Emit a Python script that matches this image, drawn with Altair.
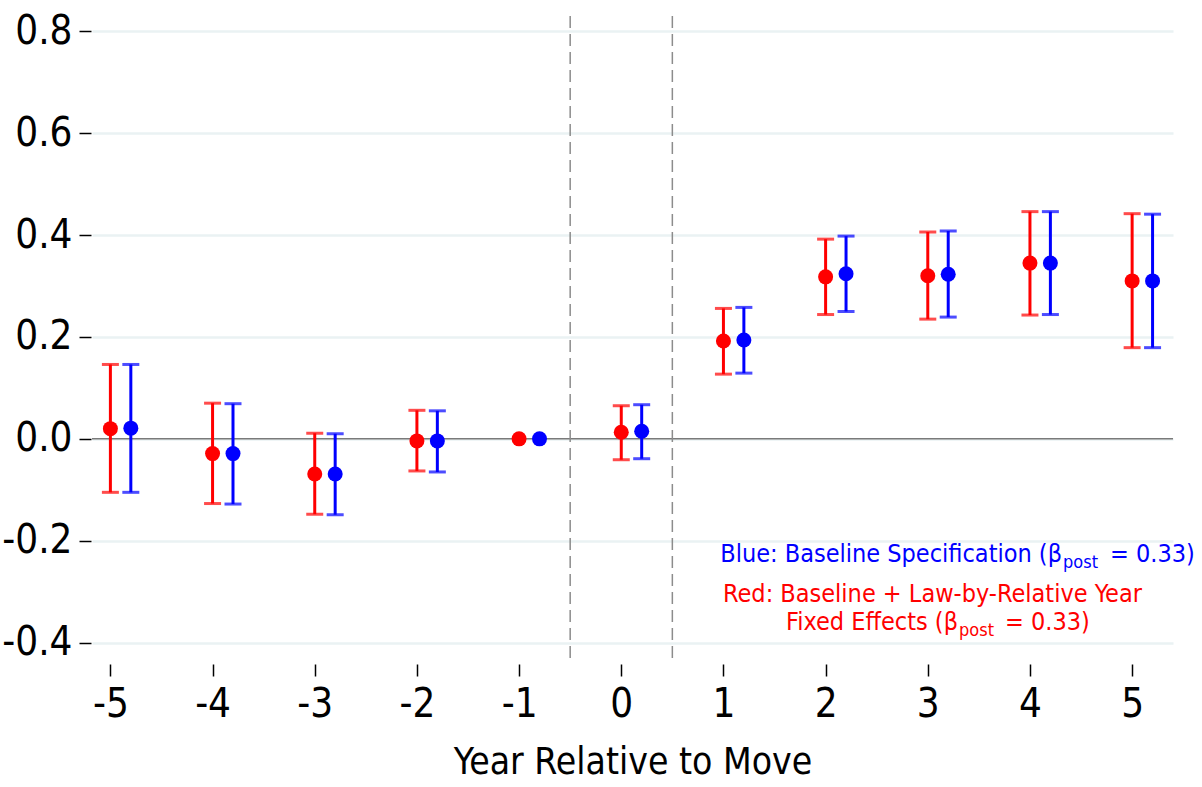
import altair as alt
import pandas as pd

years = [-5, -4, -3, -2, -1, 0, 1, 2, 3, 4, 5]
red_est = [0.020, -0.029, -0.069, -0.004, 0.0, 0.013, 0.192, 0.318, 0.320, 0.345, 0.310]
red_lo = [-0.105, -0.127, -0.148, -0.063, None, -0.041, 0.127, 0.244, 0.235, 0.243, 0.179]
red_hi = [0.146, 0.070, 0.011, 0.056, None, 0.065, 0.256, 0.392, 0.406, 0.446, 0.442]
blue_est = [0.021, -0.029, -0.069, -0.004, 0.0, 0.015, 0.194, 0.324, 0.323, 0.345, 0.310]
blue_lo = [-0.105, -0.128, -0.149, -0.065, None, -0.039, 0.129, 0.250, 0.239, 0.244, 0.179]
blue_hi = [0.146, 0.069, 0.010, 0.055, None, 0.067, 0.258, 0.398, 0.408, 0.446, 0.441]
y_ticks = [-0.4, -0.2, 0.0, 0.2, 0.4, 0.6, 0.8]
x_ticks = years
x_title = "Year Relative to Move"

rows = []
for i, yr in enumerate(years):
    rows.append({"spec": "Red", "year": yr, "est": red_est[i], "lo": red_lo[i], "hi": red_hi[i]})
for i, yr in enumerate(years):
    rows.append({"spec": "Blue", "year": yr, "est": blue_est[i], "lo": blue_lo[i], "hi": blue_hi[i]})
df = pd.DataFrame(rows)

FONT = "Liberation Sans Narrow, Arial Narrow, DejaVu Sans Condensed, sans-serif"
RED = "#FF0000"
BLUE = "#0000FF"

xscale = alt.Scale(domain=[-5.18, 5.4], nice=False, zero=False)
yscale = alt.Scale(domain=[-0.44, 0.83], nice=False, zero=False)
color = alt.Color("spec:N", scale=alt.Scale(domain=["Red", "Blue"], range=[RED, BLUE]), legend=None)

base = alt.Chart(df).transform_calculate(
    xpos="datum.year + (datum.spec == 'Blue' ? 0.2 : 0)"
)

xax = alt.Axis(values=x_ticks, grid=False, domain=False, tickSize=12, tickWidth=1.5,
               tickColor="black", labelFontSize=40, labelFont=FONT, labelPadding=8,
               labelExpr="replace(format(datum.value, 'd'), '\u2212', '-')",
               title=x_title, titleFont=FONT, titleFontSize=37, titleFontWeight="normal",
               titlePadding=20, offset=1, labelColor="black", titleColor="black")
yax = alt.Axis(values=y_ticks, grid=True, gridColor="#EAF2F3", gridWidth=2.5, domain=False,
               tickSize=12, tickWidth=1.5, tickColor="black", labelFontSize=40, labelFont=FONT,
               labelPadding=7, labelExpr="replace(format(datum.value, '.1f'), '\u2212', '-')",
               title=None, offset=1, labelColor="black")

grid_layer = alt.Chart(pd.DataFrame({"v": [0]})).mark_point(opacity=0).encode(
    x=alt.X("v:Q", scale=xscale, axis=xax),
    y=alt.Y("v:Q", scale=yscale, axis=yax),
)

zero_line = alt.Chart(pd.DataFrame({"v": [0]})).mark_rule(color="#7a7a7a", strokeWidth=1.5).encode(
    y=alt.Y("v:Q", scale=yscale)
)
vlines = alt.Chart(pd.DataFrame({"v": [-0.5, 0.5]})).mark_rule(
    color="#8c8c8c", strokeWidth=1.5, strokeDash=[12, 6]
).encode(x=alt.X("v:Q", scale=xscale))

bars = base.transform_filter("isValid(datum.lo)").mark_rule(strokeWidth=3).encode(
    x=alt.X("xpos:Q", scale=xscale),
    y=alt.Y("lo:Q", scale=yscale),
    y2="hi:Q",
    color=color,
)
caps_lo = base.transform_filter("isValid(datum.lo)").mark_tick(
    orient="horizontal", size=17, thickness=3
).encode(x=alt.X("xpos:Q", scale=xscale), y=alt.Y("lo:Q", scale=yscale), color=color)
caps_hi = base.transform_filter("isValid(datum.hi)").mark_tick(
    orient="horizontal", size=17, thickness=3
).encode(x=alt.X("xpos:Q", scale=xscale), y=alt.Y("hi:Q", scale=yscale), color=color)
pts = base.mark_circle(size=225, opacity=1).encode(
    x=alt.X("xpos:Q", scale=xscale),
    y=alt.Y("est:Q", scale=yscale),
    color=color,
)


def txt(s, x, y, col, size, align="left"):
    return alt.Chart(pd.DataFrame({"t": [s]})).mark_text(
        font=FONT, fontSize=size, color=col, align=align, baseline="alphabetic"
    ).encode(x=alt.value(x), y=alt.value(y), text="t:N")


# plot-area pixel positions (plot origin at 92,16)
ann = [
    txt("Blue: Baseline Specification (\u03b2", 970, 546, BLUE, 25, "right"),
    txt("post", 971, 552, BLUE, 18),
    txt("= 0.33)", 1018, 546, BLUE, 25),
    txt("Red: Baseline + Law-by-Relative Year", 631, 586, RED, 25),
    txt("Fixed Effects (\u03b2", 866, 614, RED, 25, "right"),
    txt("post", 867, 620, RED, 18),
    txt("= 0.33)", 913, 614, RED, 25),
]

chart = alt.layer(grid_layer, zero_line, vlines, bars, caps_lo, caps_hi, pts, *ann).properties(
    width=1081, height=647,
    autosize=alt.AutoSizeParams(type="none"),
    padding={"left": 92, "top": 16, "right": 29, "bottom": 124},
).configure(background="white").configure_view(stroke=None)

chart.save("out.html", embed_options={"renderer": "svg", "actions": False})
